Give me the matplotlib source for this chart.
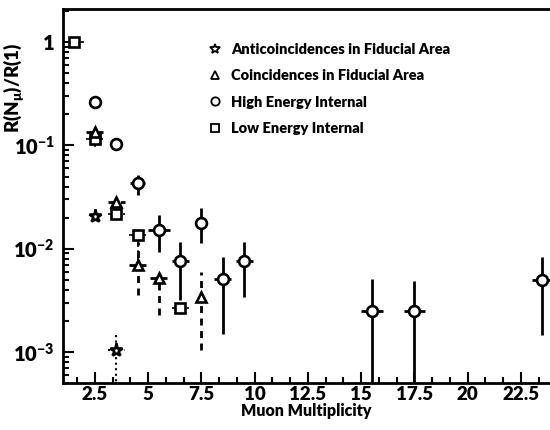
import numpy as np
import matplotlib
matplotlib.use("Agg")
import matplotlib.pyplot as plt
from matplotlib.lines import Line2D
from matplotlib.ticker import FixedLocator, FixedFormatter, LogLocator, NullFormatter

plt.rcParams['font.family'] = ['Lato', 'DejaVu Sans']
plt.rcParams['font.weight'] = 'heavy'
plt.rcParams['mathtext.fontset'] = 'custom'
plt.rcParams['mathtext.rm'] = 'Lato:heavy'
plt.rcParams['mathtext.bf'] = 'Lato:heavy'
plt.rcParams['mathtext.it'] = 'Lato:heavy'
plt.rcParams['mathtext.default'] = 'bf'

# ---------------- data ----------------
# High Energy Internal (circles)
he_x = [2.5, 3.5, 4.5, 5.5, 6.5, 7.5, 8.5, 9.5, 15.5, 17.5, 23.5]
he_y = [0.264, 0.103, 0.0432, 0.0151, 0.0076, 0.0178, 0.00508, 0.0076, 0.0025, 0.0025, 0.00497]
he_lo = [0.264, 0.090, 0.033, 0.00927, 0.00318, 0.0113, 0.00149, 0.0034, 1e-4, 1e-4, 0.00146]
he_hi = [0.264, 0.115, 0.0516, 0.0211, 0.0116, 0.0247, 0.0083, 0.0116, 0.00508, 0.00487, 0.0083]
he_xerr = [0.0, 0.0, 0.35, 0.5, 0.4, 0.0, 0.4, 0.4, 0.5, 0.5, 0.5]

# Coincidences in Fiducial Area (triangles)
co_x = [2.5, 3.5, 4.5, 5.5, 7.5]
co_y = [0.135, 0.0284, 0.00693, 0.00525, 0.00343]
co_lo = [0.135, 0.0284, 0.00356, 0.00228, 0.00104]
co_hi = [0.135, 0.0284, 0.0116, 0.00525, 0.00593]
co_xerr = [0.4, 0.4, 0.4, 0.4, 0.0]

# Anticoincidences in Fiducial Area (stars)
an_x = [2.5, 3.5]
an_y = [0.0207, 0.00104]
an_lo = [0.0207, 1e-4]
an_hi = [0.0207, 0.00156]
an_xerr = [0.0, 0.4]

# Low Energy Internal (squares)
le_x = [1.5, 2.5, 3.5, 4.5, 6.5]
le_y = [1.0, 0.115, 0.0216, 0.0135, 0.00266]
le_lo = [1.0, 0.097, 0.019, 0.0074, 0.00266]
le_hi = [1.0, 0.13, 0.0216, 0.0135, 0.00266]
le_xerr = [0.5, 0.4, 0.4, 0.4, 0.4]

legend_labels = ["Anticoincidences in Fiducial Area",
                 "Coincidences in Fiducial Area",
                 "High Energy Internal",
                 "Low Energy Internal"]

xtick_vals = [2.5, 5, 7.5, 10, 12.5, 15, 17.5, 20, 22.5]
xtick_labels = ["2.5", "5", "7.5", "10", "12.5", "15", "17.5", "20", "22.5"]
ytick_vals = [1e-3, 1e-2, 1e-1, 1]
ytick_labels = [r"$10^{-3}$", r"$10^{-2}$", r"$10^{-1}$", "1"]

# ---------------- figure ----------------
fig = plt.figure(figsize=(5.5, 4.3), dpi=100)
ax = fig.add_axes([63 / 550, 47 / 430, 487 / 550, 374 / 430])


def draw(x, y, lo, hi, xerr, marker, ms, ls, lw, zo):
    y = np.asarray(y)
    yerr = np.vstack([y - np.asarray(lo), np.asarray(hi) - y])
    cont = ax.errorbar(x, y, yerr=yerr, xerr=xerr, fmt=marker, ms=ms,
                       mfc='white', mec='black', mew=1.9, ecolor='black',
                       elinewidth=lw, capsize=0, zorder=zo)
    for bl in cont[2]:
        bl.set_linestyle(ls)
    return cont


draw(he_x, he_y, he_lo, he_hi, he_xerr, 'o', 7.8, '-', 2.0, 3)
draw(co_x, co_y, co_lo, co_hi, co_xerr, '^', 7.8, (0, (2.5, 2)), 2.0, 3.2)
draw(an_x, an_y, an_lo, an_hi, an_xerr, '*', 9.5, ':', 1.5, 3.4)
draw(le_x, le_y, le_lo, le_hi, le_xerr, 's', 7, (0, (4, 2, 1, 2)), 1.2, 3.1)

ax.set_yscale('log')
ax.set_xlim(1, 1 + 487 / 21.3)
ax.set_ylim(5.0e-4, 2.1)

ax.xaxis.set_major_locator(FixedLocator(xtick_vals))
ax.xaxis.set_major_formatter(FixedFormatter(xtick_labels))
ax.xaxis.set_minor_locator(FixedLocator(np.arange(1, 30) * 2.5 / 3))
ax.yaxis.set_major_locator(FixedLocator(ytick_vals))
ax.yaxis.set_major_formatter(FixedFormatter(ytick_labels))
ax.yaxis.set_minor_locator(LogLocator(base=10, subs=np.arange(2, 10)))
ax.yaxis.set_minor_formatter(NullFormatter())

ax.tick_params(which='both', direction='in', top=False, right=False, width=1.5)
ax.tick_params(which='major', length=8)
ax.tick_params(axis='x', which='major', labelsize=13.5, pad=2)
ax.tick_params(axis='y', which='major', labelsize=14.5, pad=6)
ax.tick_params(which='minor', length=4)
for lab in ax.get_xticklabels() + ax.get_yticklabels():
    lab.set_fontweight('heavy')

for s in ['left', 'bottom', 'top']:
    ax.spines[s].set_linewidth(2)
ax.spines['right'].set_visible(False)

ax.set_xlabel("Muon Multiplicity", fontsize=11.5, fontweight='heavy', labelpad=0)
ax.set_ylabel(r"R(N$_{\mu}$)/R(1)", fontsize=13.5, fontweight='heavy',
              family=['Lato', 'DejaVu Sans'])
ax.yaxis.set_label_coords(-0.075, 0.79)

handles = [
    Line2D([], [], marker='*', ls='none', ms=7, mfc='white', mec='black', mew=1.3),
    Line2D([], [], marker='^', ls='none', ms=6, mfc='white', mec='black', mew=1.3),
    Line2D([], [], marker='o', ls='none', ms=6, mfc='white', mec='black', mew=1.3),
    Line2D([], [], marker='s', ls='none', ms=5.5, mfc='white', mec='black', mew=1.3),
]
leg = ax.legend(handles, legend_labels, loc='upper left', bbox_to_anchor=(0.27, 0.945),
                frameon=False, handlelength=1.0, handletextpad=0.6, labelspacing=0.92,
                prop={'size': 10.5, 'weight': 'heavy'})

fig.savefig("out.png", dpi=100)
